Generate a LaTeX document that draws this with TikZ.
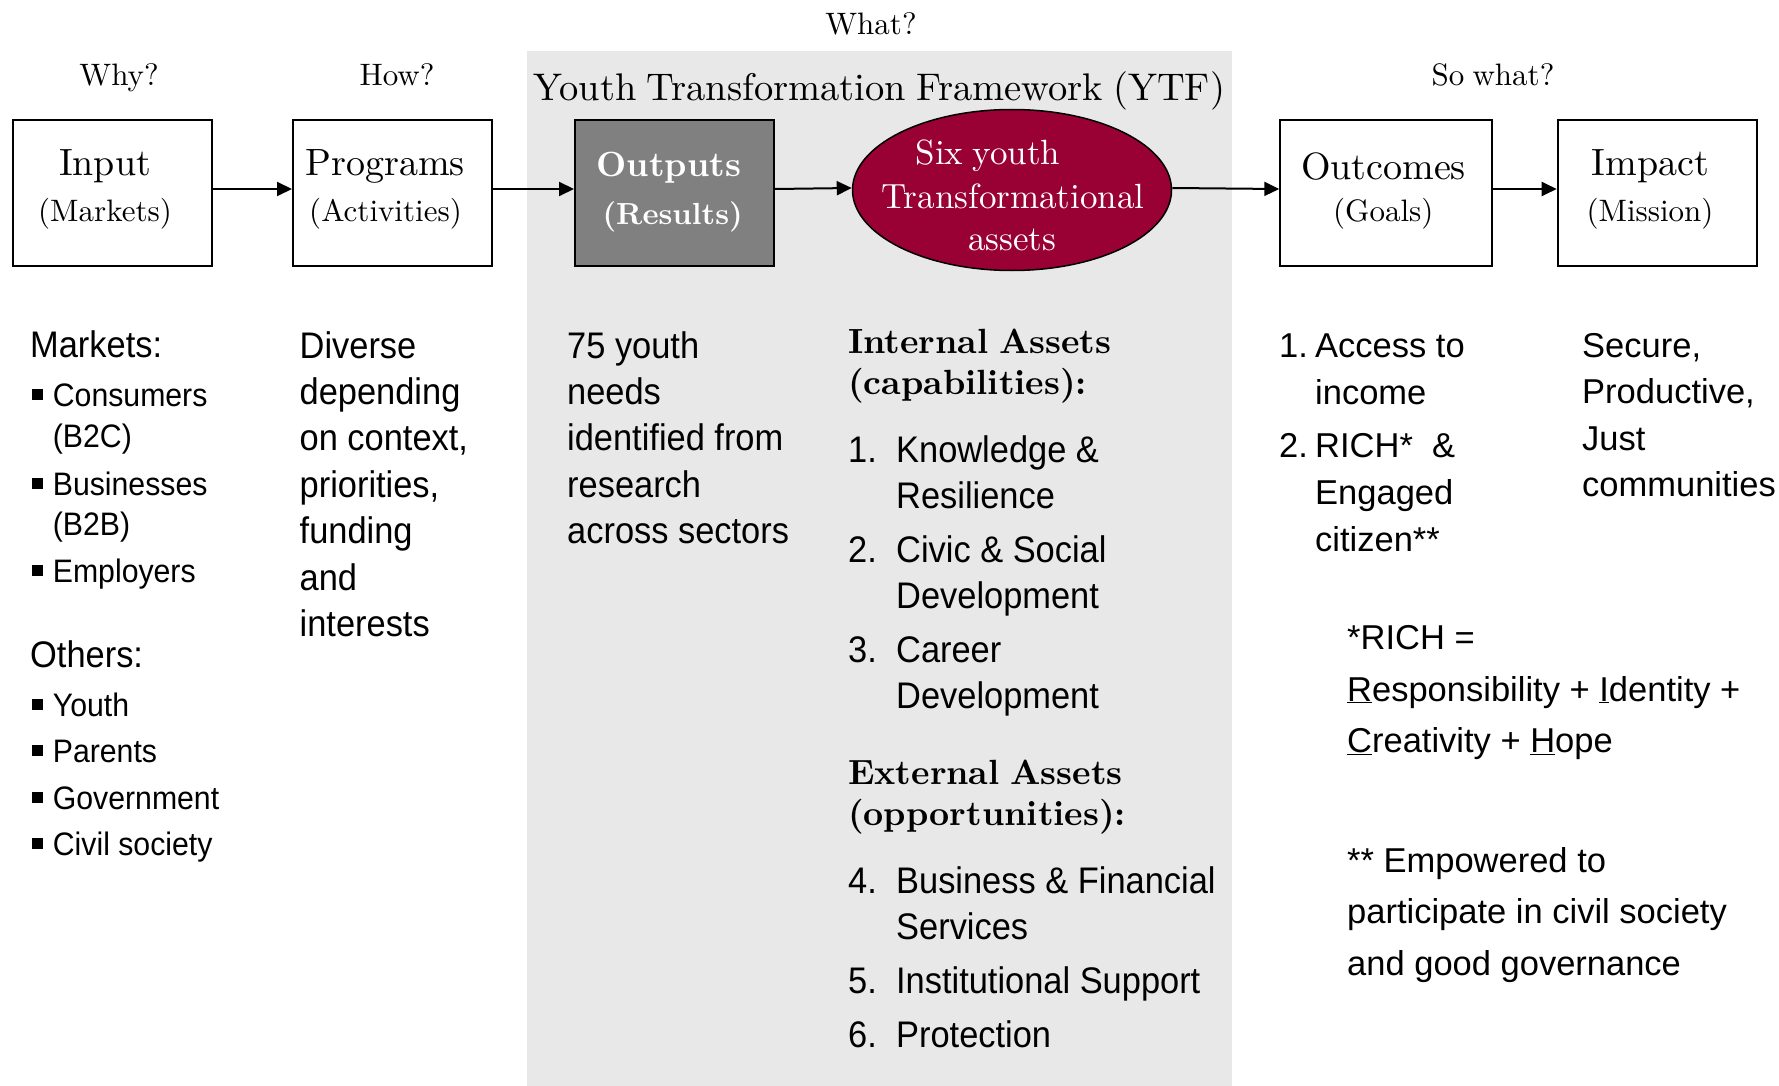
\documentclass[tikz,border=0pt]{standalone}
\usepackage{fontspec}
\usetikzlibrary{arrows.meta,shapes.geometric}

% fonts: serif titles in Latin Modern (10pt design at every size),
% body text in an Arial-like sans
\setmainfont{lmroman10-regular}[Extension=.otf, WordSpace=0.8,
  BoldFont=lmroman10-bold, ItalicFont=lmroman10-italic,
  BoldItalicFont=lmroman10-bolditalic]
\newfontfamily\sansN[FakeStretch=0.93]{Liberation Sans}
\newfontfamily\sansR{Liberation Sans}
\newcommand\setfs[2]{\fontsize{#1pt}{#2pt}\selectfont}

% helpers for multi-line text columns
\newcommand\colbox[1]{\parbox[t]{520pt}{\raggedright #1}}
\newcommand\sqbul{\makebox[21pt][l]{\rule[6.5pt]{11pt}{11pt}}}
\newcommand\bulind{\hspace*{21pt}}
\newcommand\numlab[1]{\makebox[48pt][l]{#1}}
\newcommand\numind{\hspace*{48pt}}
\newcommand\rnum[1]{\makebox[36pt][l]{#1}}
\newcommand\rind{\hspace*{36pt}}

\definecolor{panelgrey}{RGB}{232,232,232}
\definecolor{crimson}{RGB}{153,0,51}
\definecolor{outgrey}{RGB}{128,128,128}

\begin{document}
\begin{tikzpicture}[x=1pt, y=-1pt,
  box/.style={draw, line width=2pt, inner sep=0pt, anchor=north west},
  flow/.style={line width=2pt, -{Triangle[length=15pt,width=14pt]}},
  lbl/.style={anchor=base, inner sep=0pt},
  txt/.style={anchor=base west, inner sep=0pt},
  qfont/.style={font=\setfs{31}{36}},
  titlefont/.style={font=\setfs{38}{44}},
  subfont/.style={font=\setfs{31}{36}},
  narrow/.style={font={\sansN\setfs{37}{46.4}}},
  bodyR/.style={font={\sansR\setfs{34.5}{47}}},
  heading/.style={font={\bfseries\setfs{35}{40.8}}}
]
\useasboundingbox (0,0) rectangle (1779,1086);
\fill[white] (0,0) rectangle (1779,1086);

% framework panel
\node[fill=panelgrey, inner sep=0pt, anchor=north west,
      minimum width=705.3pt, minimum height=1035.3pt] (panel) at (526.7,50.7) {};

% questions above the columns
\node[lbl, qfont] (qwhat) at (871,35) {What?};
\node[lbl, qfont] (qwhy) at (119,86) {Why?};
\node[lbl, qfont] (qhow) at (397,86) {How?};
\node[lbl, qfont] (qsowhat) at (1493,86) {So what?};
\node[lbl, font=\setfs{38.5}{42}] (ytftitle) at (879.4,101) {Youth Transformation Framework (YTF)};

% chain of boxes
\node[box, minimum width=199pt, minimum height=146pt] (input) at (12,119) {};
\node[box, minimum width=199pt, minimum height=146pt] (programs) at (292,119) {};
\node[box, fill=outgrey, minimum width=199pt, minimum height=146pt] (outputs) at (574,119) {};
\node[ellipse, draw, line width=1.5pt, fill=crimson, inner sep=0pt,
      minimum width=319pt, minimum height=161pt] (assets) at (1012,190) {};
\node[box, minimum width=212pt, minimum height=146pt] (outcomes) at (1279.3,119) {};
\node[box, minimum width=199pt, minimum height=146pt] (impact) at (1556.7,119) {};

% box captions
\node[lbl, titlefont] (inputT) at (105,176) {Input};
\node[lbl, subfont] (inputS) at (105,221.7) {(Markets)};
\node[lbl, titlefont] (programsT) at (385,176) {Programs};
\node[lbl, subfont] (programsS) at (385.5,221.7) {(Activities)};
\node[lbl, text=white, font={\bfseries\setfs{35}{40}}] (outputsT) at (668.7,176.7) {Outputs};
\node[lbl, text=white, font={\bfseries\setfs{30.5}{36}}] (outputsS) at (672.7,224) {(Results)};
\node[lbl, text=white, font=\setfs{35}{40}] (assetsA) at (988,165) {Six youth};
\node[lbl, text=white, font=\setfs{35}{40}] (assetsB) at (1013,208) {Transformational};
\node[lbl, text=white, font=\setfs{35}{40}] (assetsC) at (1012,250) {assets};
\node[lbl, titlefont] (outcomesT) at (1383.5,179) {Outcomes};
\node[lbl, subfont] (outcomesS) at (1383.3,221.7) {(Goals)};
\node[lbl, titlefont] (impactT) at (1650.5,176) {Impact};
\node[lbl, subfont] (impactS) at (1650,221.7) {(Mission)};

% connectors
\draw[flow] ([yshift=4pt]input.east) -- ([yshift=4pt]programs.west);
\draw[flow] ([yshift=4pt]programs.east) -- ([yshift=4pt]outputs.west);
\draw[flow] ([yshift=4pt]outputs.east) -- ([yshift=2pt]assets.west);
\draw[flow] ([yshift=2pt]assets.east) -- ([yshift=4pt]outcomes.west);
\draw[flow] ([yshift=4pt]outcomes.east) -- ([yshift=4pt]impact.west);

% input column
\node[txt, font={\sansN\setfs{37}{46}}] (markets) at (30,357) {Markets:};
\node[txt, font={\sansN\setfs{32.5}{40.8}}] (marketlist) at (31.7,406.7)
  {\colbox{\sqbul Consumers\\ \bulind(B2C)\\[6.8pt]
           \sqbul Businesses\\ \bulind(B2B)\\[5.8pt]
           \sqbul Employers}};
\node[txt, font={\sansN\setfs{37}{46}}] (others) at (30,667.7) {Others:};
\node[txt, font={\sansN\setfs{32.5}{40.8}}] (otherlist) at (31.7,716.5)
  {\colbox{\sqbul Youth\\[5.6pt] \sqbul Parents\\[5.6pt]
           \sqbul Government\\[5.6pt] \sqbul Civil society}};

% programs column
\node[txt, narrow] (diverse) at (299.5,358)
  {\colbox{Diverse\\depending\\on context,\\priorities,\\funding\\and\\interests}};

% outputs column
\node[txt, narrow] (needs) at (567,358)
  {\colbox{75 youth\\needs\\identified from\\research\\across sectors}};

% transformational assets
\node[txt, heading] (internal) at (848,353.4) {\colbox{Internal Assets\\(capabilities):}};
\node[txt, narrow] (internallist) at (848,462.3)
  {\colbox{\numlab{1.}Knowledge \&\\ \numind Resilience\\[7pt]
           \numlab{2.}Civic \& Social\\ \numind Development\\[7.5pt]
           \numlab{3.}Career\\ \numind Development}};
\node[txt, heading] (external) at (848,784.5) {\colbox{External Assets\\(opportunities):}};
\node[txt, narrow] (externallist) at (848,893.4)
  {\colbox{\numlab{4.}Business \& Financial\\ \numind Services\\[7.5pt]
           \numlab{5.}Institutional Support\\[7pt]
           \numlab{6.}Protection}};

% outcomes column
\node[txt, bodyR] (goals) at (1279,357)
  {\colbox{\rnum{1.}Access to\\ \rind income\\[6pt]
           \rnum{2.}RICH*\ \ \&\\ \rind Engaged\\ \rind citizen**}};

% impact column
\node[txt, font={\sansR\setfs{34.5}{46.5}}] (mission) at (1582,357)
  {\colbox{Secure,\\Productive,\\Just\\communities}};

% footnotes
\node[txt, font={\sansR\setfs{34.5}{51.6}}] (richnote) at (1347,649.5)
  {\colbox{*RICH =\\ \underline{R}esponsibility + \underline{I}dentity +\\
           \underline{C}reativity + \underline{H}ope}};
\node[txt, font={\sansR\setfs{34.5}{51.5}}] (civicnote) at (1347,872)
  {\colbox{** Empowered to\\participate in civil society\\and good governance}};
\end{tikzpicture}
\end{document}
